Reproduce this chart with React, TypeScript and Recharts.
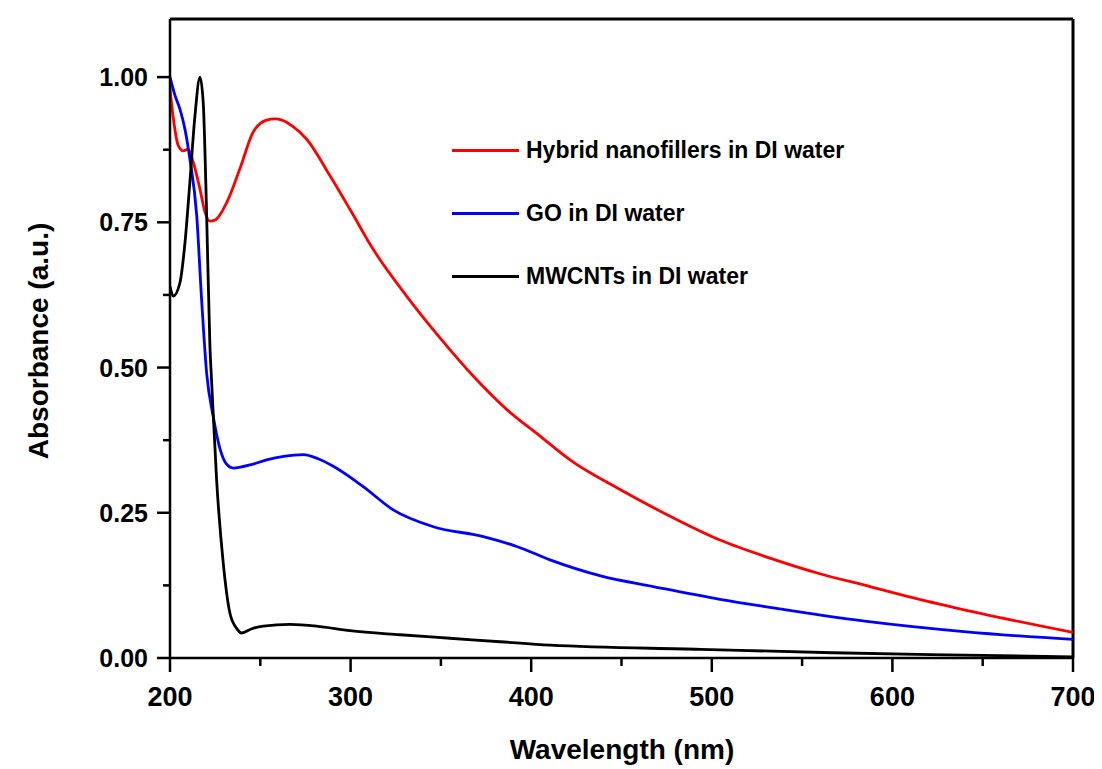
import React from 'react';
import {
  LineChart,
  Line,
  XAxis,
  YAxis,
  ReferenceLine,
  Label
} from 'recharts';

// Hybrid nanofillers in DI water (red)
const hybridWl = [200, 201.8, 204.6, 207.4, 210, 212.9, 216.6, 219.4, 222, 225, 231.4, 238.8, 246, 253.5, 258, 262, 268, 275.7, 288.6, 299.7, 312.6, 331, 349.5, 368, 386.4, 404.9, 421.5, 449.2, 476.9, 504.5, 532.2, 559.9, 587.6, 615, 650, 700];
const hybridAbs = [0.98, 0.93, 0.882, 0.873, 0.876, 0.853, 0.807, 0.767, 0.752, 0.754, 0.784, 0.843, 0.905, 0.926, 0.928, 0.926, 0.915, 0.893, 0.83, 0.772, 0.703, 0.623, 0.551, 0.485, 0.428, 0.382, 0.341, 0.29, 0.244, 0.203, 0.172, 0.145, 0.123, 0.101, 0.076, 0.044];

// GO in DI water (blue)
const goWl = [200, 202.8, 205.5, 208.3, 211, 214.8, 217.5, 220.3, 224, 227.7, 231, 235, 245, 253.5, 263, 273.8, 282, 290.4, 307, 323.6, 345.8, 373.5, 392, 410.4, 439, 467.6, 504.5, 530.4, 585.8, 641.1, 700];
const goAbs = [1.0, 0.968, 0.945, 0.91, 0.859, 0.761, 0.617, 0.49, 0.415, 0.36, 0.335, 0.327, 0.333, 0.341, 0.347, 0.35, 0.343, 0.33, 0.295, 0.255, 0.226, 0.209, 0.192, 0.169, 0.141, 0.123, 0.101, 0.088, 0.063, 0.045, 0.032];

// MWCNTs in DI water (black)
const cntWl = [200, 201.8, 205.5, 208.3, 211, 213.8, 216.6, 218.4, 220.3, 222.1, 223, 225.8, 229.5, 233.2, 236.9, 239.7, 245, 251.7, 266.4, 281.2, 299.7, 327.4, 355, 382.7, 410.4, 493.5, 567, 640, 700];
const cntAbs = [0.64, 0.623, 0.646, 0.715, 0.819, 0.933, 1.0, 0.956, 0.761, 0.537, 0.479, 0.307, 0.163, 0.077, 0.051, 0.043, 0.05, 0.055, 0.058, 0.055, 0.047, 0.04, 0.034, 0.028, 0.022, 0.015, 0.009, 0.005, 0.002];

const xTicks = [200, 250, 300, 350, 400, 450, 500, 550, 600, 650, 700];
const yTicks = [0, 0.125, 0.25, 0.375, 0.5, 0.625, 0.75, 0.875, 1.0];

const series = [
  { name: 'Hybrid nanofillers in DI water', color: '#ff0000', data: hybridWl.map((w, i) => ({ w, a: hybridAbs[i] })) },
  { name: 'GO in DI water', color: '#0000ff', data: goWl.map((w, i) => ({ w, a: goAbs[i] })) },
  { name: 'MWCNTs in DI water', color: '#000000', data: cntWl.map((w, i) => ({ w, a: cntAbs[i] })) }
];

const FONT = '"Liberation Sans", Arial, sans-serif';

const XTick = ({ x, y, payload }: any) => {
  const major = payload.value % 100 === 0;
  return (
    <g>
      <line x1={x} y1={y} x2={x} y2={y + (major ? 14 : 8)} stroke="#000" strokeWidth={2.5} />
      {major && (
        <text x={x} y={y + 48} textAnchor="middle" fontFamily={FONT} fontWeight="bold" fontSize={27} fill="#000">
          {payload.value}
        </text>
      )}
    </g>
  );
};

const YTick = ({ x, y, payload }: any) => {
  const major = Math.abs((payload.value * 4) - Math.round(payload.value * 4)) < 1e-6;
  return (
    <g>
      <line x1={x} y1={y} x2={x - (major ? 13 : 7)} y2={y} stroke="#000" strokeWidth={2.5} />
      {major && (
        <text x={x - 22} y={y + 9} textAnchor="end" fontFamily={FONT} fontWeight="bold" fontSize={25} fill="#000">
          {payload.value.toFixed(2)}
        </text>
      )}
    </g>
  );
};

const LegendBox = () => (
  <div style={{ position: 'absolute', left: 452, top: 119, fontFamily: FONT, fontWeight: 'bold', fontSize: 23, color: '#000' }}>
    {series.map(s => (
      <div key={s.name} style={{ display: 'flex', alignItems: 'center', height: 63, whiteSpace: 'nowrap' }}>
        <span style={{ display: 'inline-block', width: 67, height: 3, background: s.color, marginRight: 7 }} />
        <span>{s.name}</span>
      </div>
    ))}
  </div>
);

export default function App() {
  return (
    <div style={{ position: 'relative', marginLeft: -8, marginTop: -8, background: '#fff', width: 1102, height: 769 }}>
      <LineChart width={1102} height={769} margin={{ top: 19, right: 29, bottom: 0, left: 0 }}>
        <XAxis
          dataKey="w"
          type="number"
          domain={[200, 700]}
          ticks={xTicks}
          allowDataOverflow
          height={111}
          tickSize={0}
          tickMargin={0}
          tickLine={false}
          tick={<XTick />}
          axisLine={{ stroke: '#000', strokeWidth: 2.5 }}
          interval={0}
        >
          <Label
            content={() => (
              <text x={622} y={759} textAnchor="middle" fontFamily={FONT} fontWeight="bold" fontSize={28} fill="#000">
                Wavelength (nm)
              </text>
            )}
          />
        </XAxis>
        <YAxis
          dataKey="a"
          type="number"
          domain={[0, 1.1]}
          ticks={yTicks}
          allowDataOverflow
          width={170}
          tickSize={0}
          tickMargin={0}
          tickLine={false}
          tick={<YTick />}
          axisLine={{ stroke: '#000', strokeWidth: 2.5 }}
          interval={0}
        >
          <Label
            content={() => (
              <text
                x={38}
                y={341}
                transform="rotate(-90, 38, 341)"
                textAnchor="middle"
                dominantBaseline="central"
                fontFamily={FONT}
                fontWeight="bold"
                fontSize={28}
                fill="#000"
              >
                Absorbance (a.u.)
              </text>
            )}
          />
        </YAxis>
        <ReferenceLine y={1.1} stroke="#000" strokeWidth={3} ifOverflow="visible" />
        <ReferenceLine x={700} stroke="#000" strokeWidth={3} ifOverflow="visible" />
        {series.map(s => (
          <Line
            key={s.name}
            data={s.data}
            dataKey="a"
            name={s.name}
            type="monotone"
            stroke={s.color}
            strokeWidth={2.8}
            dot={false}
            isAnimationActive={false}
          />
        ))}
      </LineChart>
      <LegendBox />
    </div>
  );
}
